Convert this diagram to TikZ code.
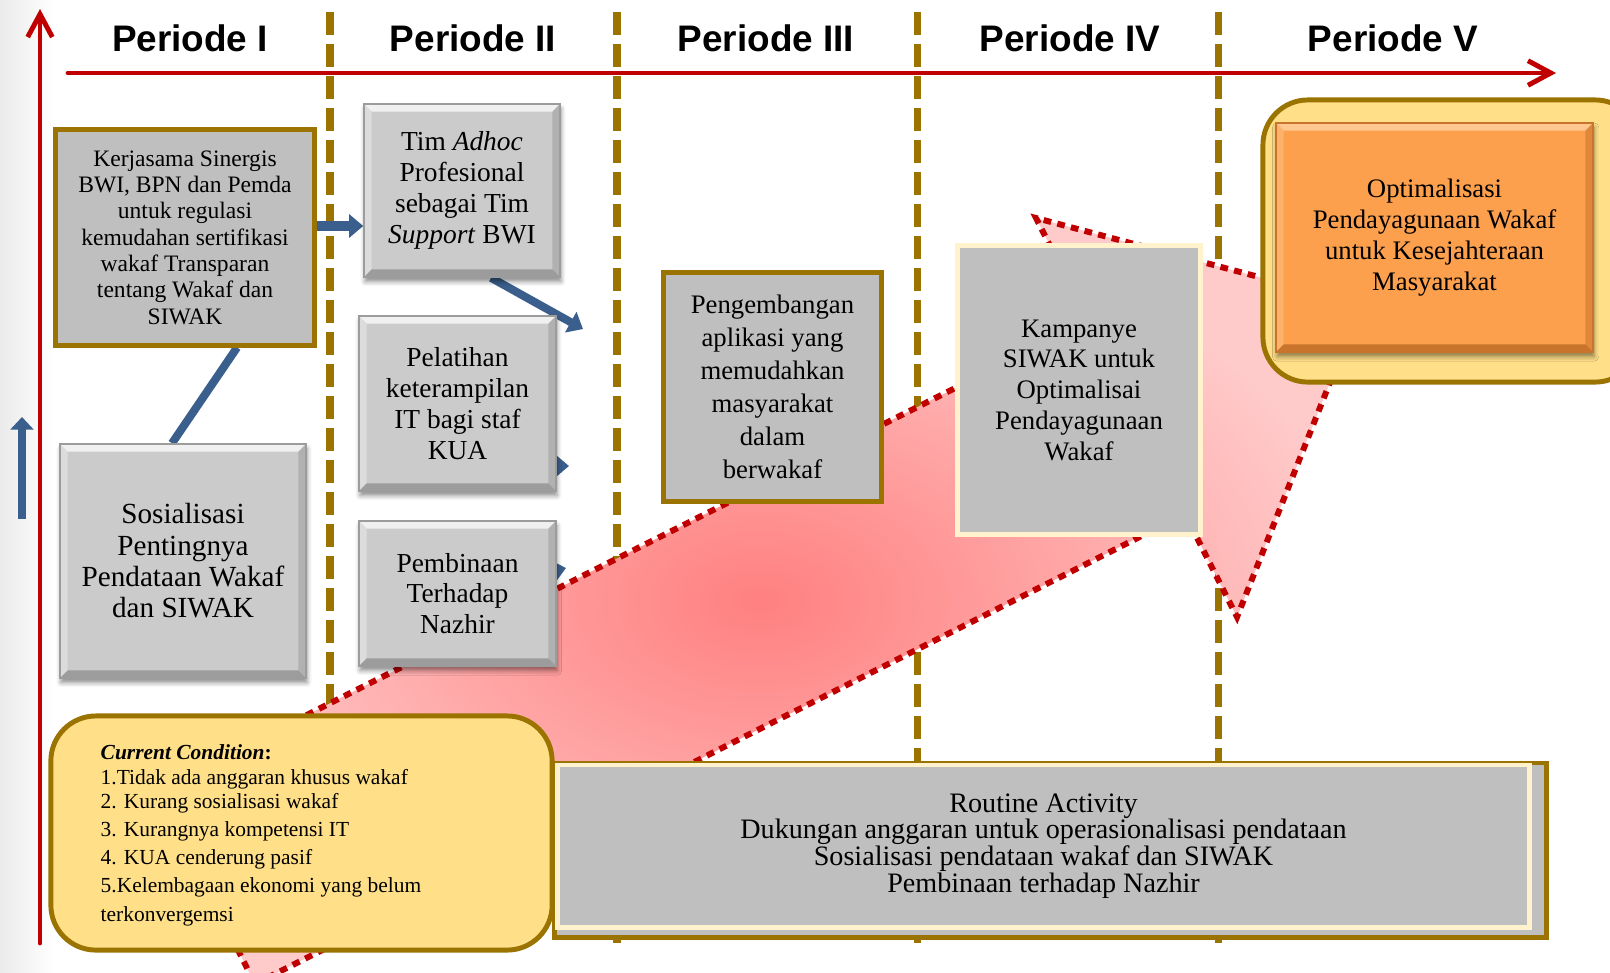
\documentclass[tikz,border=0pt]{standalone}
\usepackage{fontspec}
\setmainfont{Liberation Serif}
\newfontfamily\periodfont{Liberation Sans}
\usetikzlibrary{arrows.meta,shadows.blur,backgrounds}

\definecolor{axisred}{HTML}{C00000}
\definecolor{linegold}{HTML}{9A7300}
\definecolor{fillgold}{HTML}{FFDF88}
\definecolor{cream}{HTML}{FFF2CC}
\definecolor{boxgray}{HTML}{BFBFBF}
\definecolor{bevelgray}{HTML}{CBCBCB}
\definecolor{bevellight}{HTML}{F0F0F0}
\definecolor{beveldark}{HTML}{9C9C9C}
\definecolor{orangefill}{HTML}{FCA04E}
\definecolor{orangelight}{HTML}{FFC890}
\definecolor{orangedark}{HTML}{C8742C}
\definecolor{linkblue}{HTML}{3B5F8C}
\definecolor{pinkcore}{HTML}{FF8080}
\definecolor{pinkedge}{HTML}{FFCACA}

\tikzset{
  period/.style={font=\periodfont\fontsize{10.5}{12}\selectfont\bfseries},
  axis/.style={axisred, line width=1.4pt, line cap=round,
    -{Straight Barb[length=6.5pt,width=7pt,line width=1.4pt]}},
  divider/.style={linegold, line width=2pt, dash pattern=on 6.5pt off 2.6pt},
  link/.style={linkblue, line width=2.3pt},
  linkarrow/.style={link, -{Triangle[length=4pt,width=6.5pt]}},
  plainbox/.style={draw=linegold, line width=1.4pt, fill=boxgray, align=center, inner sep=0pt},
  roundbox/.style={plainbox, fill=fillgold, rounded corners=4.5mm},
  bevelbox/.style n args={3}{fill=#1, draw=#3, line width=.4pt, align=center, inner sep=0pt,
    blur shadow={shadow xshift=.3pt, shadow yshift=-1.3pt, shadow blur radius=1.3pt, shadow opacity=45},
    path picture={
      \coordinate (bnw) at (path picture bounding box.north west);
      \coordinate (bne) at (path picture bounding box.north east);
      \coordinate (bsw) at (path picture bounding box.south west);
      \coordinate (bse) at (path picture bounding box.south east);
      \fill[#2] (bnw) -- (bne) -- ([shift={(-2.2pt,-2.2pt)}]bne) -- ([shift={(2.2pt,-2.2pt)}]bnw) -- cycle;
      \fill[#2!45!#1] (bnw) -- ([shift={(2.2pt,-2.2pt)}]bnw) -- ([shift={(2.2pt,2.2pt)}]bsw) -- (bsw) -- cycle;
      \fill[#3!55!#1] (bne) -- ([shift={(-2.2pt,-2.2pt)}]bne) -- ([shift={(-2.2pt,2.2pt)}]bse) -- (bse) -- cycle;
      \fill[#3] (bsw) -- ([shift={(2.2pt,2.2pt)}]bsw) -- ([shift={(-2.2pt,2.2pt)}]bse) -- (bse) -- cycle;
    }},
  graybox/.style={bevelbox={bevelgray}{bevellight}{beveldark}},
  bigarrow/.style={inner color=pinkcore, outer color=pinkedge, draw=axisred,
    line width=1.7pt, dash pattern=on 2.2pt off 1.8pt},
  condline/.style={anchor=base west, inner sep=0pt, font=\fontsize{6.1}{7}\selectfont}
}

\begin{document}
\begin{tikzpicture}[x=0.01cm, y=-0.01cm]
\useasboundingbox (0,0) rectangle (1610,972);

\foreach \p/\x [count=\i] in {I/190, II/473, III/766, IV/1070, V/1393}
  \node[period] (per\i) at (\x,38) {Periode \p};

% small arrow on the left
\coordinate (upfoot) at (22,519);
\coordinate (uptop) at (22,417);
\draw[linkarrow, -{Triangle[length=3.6pt,width=6.5pt]}] (upfoot) -- (uptop);

% big arrow through the periods
\coordinate (tailL) at (255,984);
\coordinate (neckL) at (1185,514);
\coordinate (barbL) at (1237,617);
\coordinate (head) at (1361,304);
\coordinate (barbU) at (1036,218);
\coordinate (neckU) at (1088,321);
\coordinate (tailU) at (158,790);
\shadedraw[bigarrow] (tailL) -- (neckL) -- (barbL) -- (head) -- (barbU) -- (neckU) -- (tailU) -- cycle;

\node[plainbox, minimum width=2.58cm, minimum height=2.15cm, font=\fontsize{6.7}{7.5}\selectfont]
  (kerja) at (185,237.5) {Kerjasama Sinergis\\BWI, BPN dan Pemda\\untuk regulasi\\kemudahan sertifikasi\\wakaf Transparan\\tentang Wakaf dan\\SIWAK};
\node[graybox, minimum width=2.46cm, minimum height=2.34cm, font=\fontsize{8.3}{8.9}\selectfont]
  (sosial) at (183,561) {Sosialisasi\\Pentingnya\\Pendataan Wakaf\\dan SIWAK};
\node[graybox, minimum width=1.96cm, minimum height=1.73cm, font=\fontsize{7.8}{8.75}\selectfont]
  (tim) at (462,190.5) {Tim \textit{Adhoc}\\Profesional\\sebagai Tim\\\textit{Support} BWI};
\node[graybox, minimum width=1.97cm, minimum height=1.75cm, font=\fontsize{7.8}{8.75}\selectfont]
  (latih) at (457.5,403.5) {Pelatihan\\keterampilan\\IT bagi staf\\KUA};
\node[graybox, minimum width=1.97cm, minimum height=1.45cm, font=\fontsize{7.8}{8.75}\selectfont]
  (bina) at (457.5,593.5) {Pembinaan\\Terhadap\\Nazhir};
\node[plainbox, minimum width=2.17cm, minimum height=2.28cm, font=\fontsize{7.6}{9.4}\selectfont]
  (kembang) at (772.5,387) {Pengembangan\\aplikasi yang\\memudahkan\\masyarakat\\dalam\\berwakaf};
\node[plainbox, draw=cream, minimum width=2.42cm, minimum height=2.88cm, font=\fontsize{7.6}{8.75}\selectfont]
  (kampanye) at (1079,390) {Kampanye\\SIWAK untuk\\Optimalisai\\Pendayagunaan\\Wakaf};
\node[roundbox, minimum width=3.77cm, minimum height=2.82cm] (goalback) at (1451.5,241) {};
\node[bevelbox={orangefill}{orangelight}{orangedark}, minimum width=3.17cm, minimum height=2.29cm,
  font=\fontsize{7.6}{8.75}\selectfont]
  (goal) at (1434.5,237.5) {Optimalisasi\\Pendayagunaan Wakaf\\untuk Kesejahteraan\\Masyarakat};

% current condition
\node[roundbox, minimum width=5.01cm, minimum height=2.34cm] (condbox) at (301.5,833) {};
\foreach \t/\y [count=\i] in {{\textbf{\textit{Current Condition}:}}/759,
    1.Tidak ada anggaran khusus wakaf/784, 2. Kurang sosialisasi wakaf/808,
    3. Kurangnya kompetensi IT/836, 4. KUA cenderung pasif/864,
    5.Kelembagaan ekonomi yang belum/892, terkonvergemsi/921}
  \node[condline] (cline\i) at (100,\y) {\t};

% routine activity
\node[plainbox, minimum width=9.91cm, minimum height=1.74cm] (routineback) at (1050.5,850) {};
\node[plainbox, draw=cream, minimum width=9.71cm, minimum height=1.62cm, font=\fontsize{8}{7.6}\selectfont]
  (routine) at (1043.5,846) {Routine Activity\\Dukungan anggaran untuk operasionalisasi pendataan\\Sosialisasi pendataan wakaf dan SIWAK\\Pembinaan terhadap Nazhir};

\begin{scope}[on background layer]
  \fill[left color=black!8, right color=white] (0,0) rectangle (55,972);
  % time axes
  \coordinate (yfoot) at (40,943);
  \coordinate (ytop) at (40,9);
  \draw[axis] (yfoot) -- (ytop);
  \coordinate (xstart) at (68,73);
  \coordinate (xend) at (1556,73);
  \draw[axis] (xstart) -- (xend);
  % period borders
  \foreach \x in {330,617,917,1218}
    \draw[divider] (\x,12) -- (\x,943);
  % links between the steps
  \coordinate (k1) at ([yshift=1.15mm]kerja.east);
  \draw[linkarrow, line width=2.8pt] (k1) -- (k1 -| tim.west);
  \draw[link] ([xshift=5.2mm]kerja.south) -- ([xshift=-1.1mm]sosial.north);
  \coordinate (timend) at (583,329);
  \draw[linkarrow] ([xshift=2.9mm]tim.south) -- (timend);
  \coordinate (latihend) at (569,466);
  \draw[linkarrow] (latih.center |- latihend) -- (latihend);
  \coordinate (binaend) at (566,568);
  \draw[linkarrow] (bina.center) -- (binaend);
\end{scope}
\end{tikzpicture}
\end{document}
